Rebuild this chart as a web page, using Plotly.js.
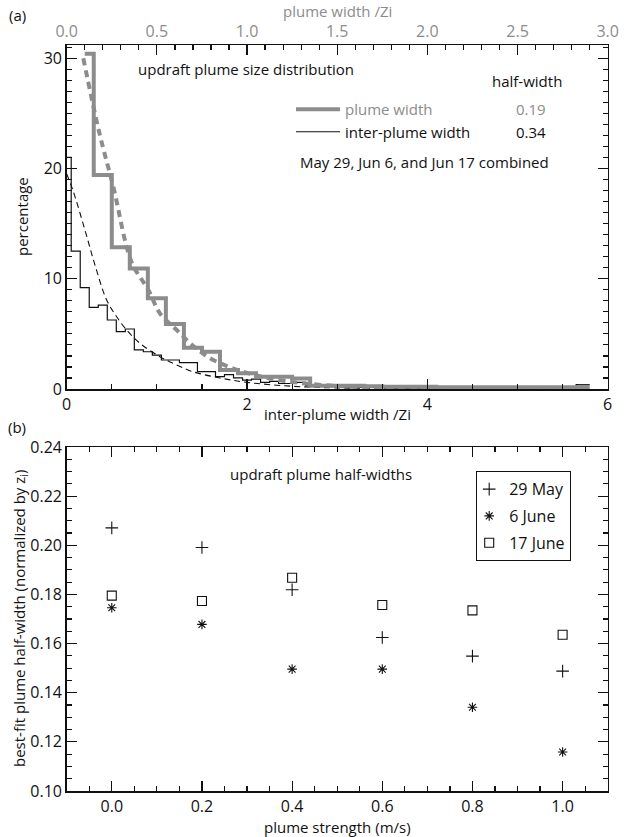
<!DOCTYPE html>
<html>
<head>
<meta charset="utf-8">
<script src="https://cdn.plot.ly/plotly-3.0.1.min.js"></script>
<style>html,body{margin:0;padding:0;background:#fff}#chart{width:625px;height:837px}</style>
</head>
<body>
<div id="chart"></div>
<script>
// ---------- Panel (a): plume size distribution ----------
// plume width bins (top axis, width / Zi), percentage
const plumeWidthBins = [0.1,0.2,0.3,0.4,0.5,0.6,0.7,0.8,0.9,1.0,1.1,1.2,1.3,1.4,1.5,1.6,1.7,1.8,1.9,2.0,2.1,2.2,2.3,2.4,2.5,2.6,2.7,2.8,2.9];
const plumeWidthPct  = [30.4,19.4,12.85,10.94,8.22,5.89,3.75,3.38,1.72,1.42,1.12,1.1,0.95,0.3,0.3,0.3,0.25,0.2,0.2,0.2,0.15,0.15,0.15,0.15,0.15,0.15,0.15,0.15,0.2];
// inter-plume width bins (bottom axis, width / Zi), percentage
const interWidthBins = [0.0,0.1,0.2,0.3,0.4,0.5,0.6,0.7,0.8,0.9,1.0,1.1,1.2,1.3,1.4,1.5,1.6,1.7,1.8,1.9,2.0,2.1,2.2,2.3,2.4,2.5,2.6,2.7,2.8,2.9,3.0,3.1,3.2,3.3,3.4,3.5,3.6,3.7,3.8,3.9,4.0,4.1,4.2,4.3,4.4,4.5,4.6,4.7,4.8,4.9,5.0,5.1,5.2,5.3,5.4,5.5,5.6,5.7,5.8];
const interWidthPct  = [21.0,12.5,9.2,7.4,7.6,6.26,5.2,5.44,3.54,3.38,3.08,2.63,2.63,2.39,2.39,1.57,1.57,1.12,1.3,1.0,0.8,0.9,0.6,0.7,0.5,0.5,0.6,0.3,0.3,0.25,0.25,0.2,0.2,0.15,0.15,0.15,0.1,0.1,0.1,0.1,0.1,0.1,0.1,0.1,0.1,0.1,0.1,0.1,0.1,0.1,0.1,0.1,0.1,0.1,0.1,0.1,0.15,0.4,0.4];
// exponential fits
const plumeFitX = [0.092,0.18,0.259,0.36,0.453,0.517,0.61,0.702,0.813,1.0,1.2,1.5,2.0,2.5,2.9];
const plumeFitY = [30.0,23.3,18.3,11.5,8.98,6.86,5.35,3.9,2.63,1.46,0.75,0.27,0.05,0.02,0.01];
const interFitX = [0.0,0.074,0.203,0.314,0.443,0.554,0.665,0.813,1.034,1.22,1.40,1.7,2.0,2.5,3.0,4.0,5.0,5.8];
const interFitY = [19.5,17.9,14.4,11.24,8.07,6.55,5.35,4.14,2.93,2.18,1.57,1.0,0.6,0.25,0.1,0.02,0.01,0.0];
const plumeHalfWidth = "0.19";
const interHalfWidth = "0.34";

// ---------- Panel (b): best-fit plume half-widths ----------
const plumeStrength = [0.0,0.2,0.4,0.6,0.8,1.0];
const may29  = [0.2071,0.1991,0.1819,0.1625,0.1549,0.1488];
const june6  = [0.1746,0.1678,0.1496,0.1496,0.1341,0.1159];
const june17 = [0.1795,0.1773,0.1868,0.1757,0.1735,0.1636];

const FONT = "Open Sans, Noto Sans, sans-serif";
const GREY = "#8c8c8c";
const W = 625, H = 837;
const px = v => v / W;           // helpers for paper placement of text
const py = v => 1 - v / H;

const xDom = [px(66.7), px(607.7)];
const topDom = [py(389), py(45)];
const botDom = [py(791), py(447)];

const traces = [
  {x: plumeWidthBins, y: plumeWidthPct, xaxis: 'x2', yaxis: 'y', type: 'scatter', mode: 'lines',
   line: {shape: 'hvh', color: GREY, width: 4}, name: '<span style="color:#8c8c8c">plume width</span>', legend: 'legend2'},
  {x: interWidthBins, y: interWidthPct, xaxis: 'x', yaxis: 'y', type: 'scatter', mode: 'lines',
   line: {shape: 'hvh', color: '#111', width: 1.2}, name: 'inter-plume width', legend: 'legend2'},
  {x: plumeFitX, y: plumeFitY, xaxis: 'x2', yaxis: 'y', type: 'scatter', mode: 'lines',
   line: {shape: 'spline', color: GREY, width: 4, dash: '7px,5px'}, showlegend: false, hoverinfo: 'skip'},
  {x: interFitX, y: interFitY, xaxis: 'x', yaxis: 'y', type: 'scatter', mode: 'lines',
   line: {shape: 'spline', color: '#111', width: 1.1, dash: '6px,4px'}, showlegend: false, hoverinfo: 'skip'},
  {x: plumeStrength, y: may29, xaxis: 'x3', yaxis: 'y2', type: 'scatter', mode: 'markers', name: '29 May', legendgroup: 'a',
   marker: {symbol: 'cross-thin-open', size: 9, color: '#111', line: {width: 1.1, color: '#111'}}},
  {x: plumeStrength, y: june6, xaxis: 'x3', yaxis: 'y2', type: 'scatter', mode: 'markers', name: '6 June', legendgroup: 'b',
   marker: {symbol: 'asterisk-open', size: 8, color: '#111', line: {width: 1.1, color: '#111'}}},
  {x: plumeStrength, y: june17, xaxis: 'x3', yaxis: 'y2', type: 'scatter', mode: 'markers', name: '17 June', legendgroup: 'c',
   marker: {symbol: 'square-open', size: 9, color: '#111', line: {width: 1.1, color: '#111'}}}
];

const axBase = {
  showgrid: false, zeroline: false, showline: true, linecolor: '#111', linewidth: 1.5,
  ticks: 'inside', ticklen: 10, tickwidth: 1.2, tickcolor: '#111',
  tickfont: {family: FONT, size: 16, color: '#111'}
};
const minor = (d) => ({dtick: d, ticks: 'inside', ticklen: 5, tickwidth: 1.2, tickcolor: '#111', showgrid: false});

const ann = (text, x, y, extra) => Object.assign({text: text, x: px(x), y: py(y), xref: 'paper', yref: 'paper',
  xanchor: 'center', yanchor: 'middle', showarrow: false, font: {size: 15}}, extra || {});

const layout = {
  width: W, height: H,
  margin: {l: 0, r: 0, t: 0, b: 0},
  paper_bgcolor: '#fff', plot_bgcolor: '#fff',
  font: {family: FONT, size: 15, color: '#111'},
  showlegend: true,
  xaxis: Object.assign({}, axBase, {domain: xDom, anchor: 'y', range: [0, 6], tick0: 0, dtick: 2,
          minor: minor(0.5), mirror: false}),
  xaxis2: Object.assign({}, axBase, {domain: xDom, anchor: 'y', overlaying: 'x', side: 'top', range: [0, 3],
          tick0: 0, dtick: 0.5, tickformat: '.1f', minor: minor(0.1),
          tickfont: {family: FONT, size: 16, color: GREY}}),
  yaxis: Object.assign({}, axBase, {domain: topDom, anchor: 'x', range: [0, 31.2], tick0: 0, dtick: 10,
          minor: minor(1), mirror: 'ticks'}),
  xaxis3: Object.assign({}, axBase, {domain: xDom, anchor: 'y2', range: [-0.1, 1.1], tick0: 0, dtick: 0.2,
          tickformat: '.1f', minor: minor(0.05), mirror: 'ticks'}),
  yaxis2: Object.assign({}, axBase, {domain: botDom, anchor: 'x3', range: [0.10, 0.24], tick0: 0.10, dtick: 0.02,
          tickformat: '.2f', minor: minor(0.005), mirror: 'ticks'}),
  legend: {x: px(476), y: py(471), xanchor: 'left', yanchor: 'top', bordercolor: '#111', borderwidth: 1.2,
           bgcolor: '#fff', font: {family: FONT, size: 16, color: '#111'}, itemwidth: 30, tracegroupgap: 3,
           indentation: -8},
  legend2: {x: px(291), y: py(93), xanchor: 'left', yanchor: 'top', borderwidth: 0, bgcolor: 'rgba(0,0,0,0)',
            font: {family: FONT, size: 15, color: '#111'}, itemwidth: 44},
  annotations: [
    ann('(a)', 17, 15),
    ann('(b)', 17, 427),
    ann('plume width /Zi', 337, 11, {font: {size: 15, color: GREY}}),
    ann('inter-plume width /Zi', 337, 414),
    ann('percentage', 22, 217, {textangle: -90}),
    ann('plume strength (m/s)', 337, 827),
    ann('best-fit plume half-width (normalized by z<sub>i</sub>)', 20, 619, {textangle: -90}),
    ann('updraft plume size distribution', 136, 69, {xanchor: 'left'}),
    ann('half-width', 527, 81),
    ann(plumeHalfWidth, 531, 109, {font: {size: 15, color: GREY}}),
    ann(interHalfWidth, 531, 132),
    ann('May 29, Jun 6, and Jun 17 combined', 298, 162, {xanchor: 'left'}),
    ann('updraft plume half-widths', 321, 474)
  ]
};

Plotly.newPlot('chart', traces, layout, {staticPlot: true, displayModeBar: false});
</script>
</body>
</html>
